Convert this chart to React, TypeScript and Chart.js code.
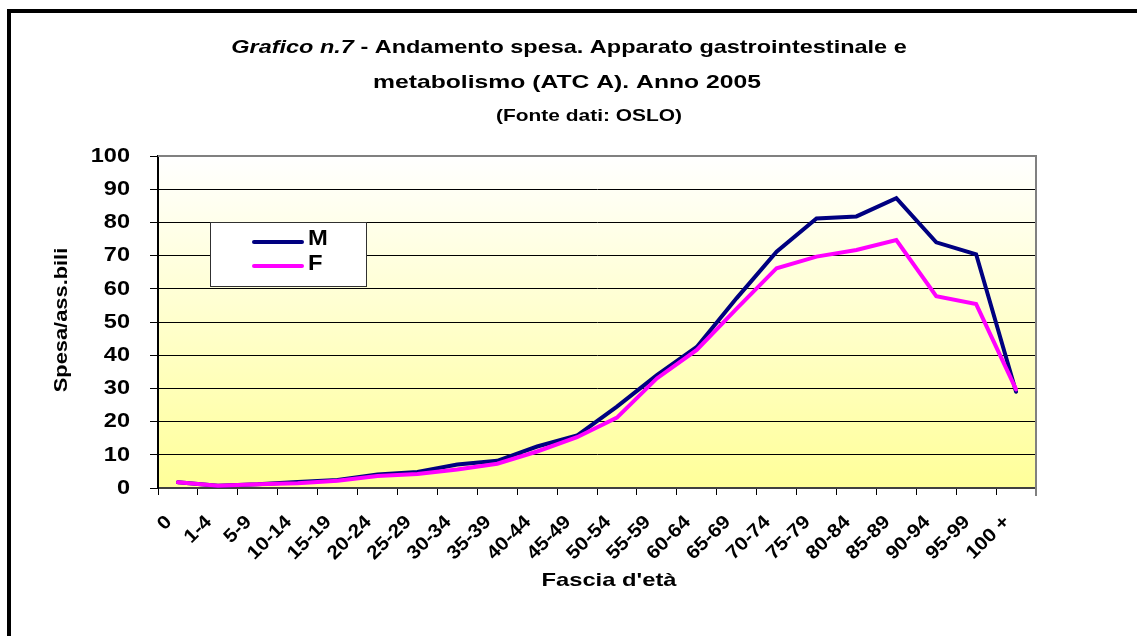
import React, { useEffect, useRef } from "react";
import { Chart, registerables } from "chart.js";

Chart.register(...registerables);

const categories = [
  "0", "1-4", "5-9", "10-14", "15-19", "20-24", "25-29", "30-34", "35-39", "40-44", "45-49",
  "50-54", "55-59", "60-64", "65-69", "70-74", "75-79", "80-84", "85-89", "90-94", "95-99", "100 +",
];
const maleValues = [
  1.7, 0.7, 1.1, 1.8, 2.4, 4.1, 4.8, 7.1, 8.2, 12.5, 15.8,
  24.5, 34.0, 42.5, 57.2, 71.2, 81.2, 81.8, 87.3, 74.0, 70.4, 29.0,
];
const femaleValues = [
  1.7, 0.7, 1.1, 1.4, 2.2, 3.6, 4.2, 5.6, 7.3, 11.0, 15.3,
  21.2, 33.0, 41.6, 54.0, 66.2, 69.7, 71.7, 74.7, 57.8, 55.4, 29.7,
];
const seriesNames = ["M", "F"];
const seriesColors = ["#000080", "#FF00FF"];
const titleItalic = "Grafico n.7";
const titleLine1 = " - Andamento spesa. Apparato gastrointestinale e";
const titleLine2 = "metabolismo (ATC A). Anno 2005";
const titleLine3 = "(Fonte dati: OSLO)";
const yAxisTitle = "Spesa/ass.bili";
const xAxisTitle = "Fascia d'età";

const FONT = '"Liberation Sans", Arial, Helvetica, sans-serif';

type TOpts = {
  size: number;
  italic?: boolean;
  align?: CanvasTextAlign;
  baseline?: CanvasTextBaseline;
  sx?: number;
  rotate?: number;
};

function setFont(ctx: CanvasRenderingContext2D, size: number, italic?: boolean) {
  ctx.font = `${italic ? "italic " : ""}bold ${size}px ${FONT}`;
}

function drawText(ctx: CanvasRenderingContext2D, text: string, x: number, y: number, o: TOpts) {
  ctx.save();
  ctx.translate(x, y);
  if (o.rotate) ctx.rotate(o.rotate);
  ctx.scale(o.sx ?? 1, 1);
  setFont(ctx, o.size, o.italic);
  ctx.textAlign = o.align ?? "left";
  ctx.textBaseline = o.baseline ?? "middle";
  ctx.fillStyle = "#000";
  ctx.fillText(text, 0, 0);
  ctx.restore();
}

const decorPlugin = {
  id: "decor",
  beforeDraw(chart: any) {
    const { ctx, chartArea: a } = chart;
    ctx.save();
    ctx.fillStyle = "#fff";
    ctx.fillRect(0, 0, chart.width, chart.height);
    ctx.fillStyle = "#000";
    ctx.fillRect(7, 9, 4, chart.height);
    ctx.fillRect(7, 9, chart.width, 4);
    const g = ctx.createLinearGradient(0, a.top, 0, a.bottom);
    g.addColorStop(0, "#FFFFFF");
    g.addColorStop(1, "#FFFF99");
    ctx.fillStyle = g;
    ctx.fillRect(a.left, a.top, a.right - a.left, a.bottom - a.top);
    ctx.restore();
  },
  beforeDatasetsDraw(chart: any) {
    const { ctx, chartArea: a } = chart;
    ctx.save();
    ctx.strokeStyle = "#808080";
    ctx.lineWidth = 2;
    ctx.beginPath();
    ctx.moveTo(a.left, a.top);
    ctx.lineTo(a.right, a.top);
    ctx.lineTo(a.right, a.bottom + 8);
    ctx.stroke();
    ctx.restore();
  },
  afterDatasetsDraw(chart: any) {
    const { ctx, chartArea: a } = chart;
    const xs = chart.scales.x;
    const ys = chart.scales.y;

    // legend box
    ctx.save();
    ctx.fillStyle = "#fff";
    ctx.fillRect(210.5, 222.5, 156, 64);
    ctx.strokeStyle = "#303030";
    ctx.lineWidth = 1;
    ctx.strokeRect(210.5, 222.5, 156, 64);
    const rows = [242, 266];
    const textRows = [239, 264];
    seriesNames.forEach((name, i) => {
      ctx.strokeStyle = seriesColors[i];
      ctx.lineWidth = 4;
      ctx.lineCap = "round";
      ctx.beginPath();
      ctx.moveTo(254, rows[i]);
      ctx.lineTo(302, rows[i]);
      ctx.stroke();
      drawText(ctx, name, 308, textRows[i], { size: 22, sx: 1.08 });
    });
    ctx.restore();

    // y tick labels
    ys.ticks.forEach((t: any, i: number) => {
      const py = ys.getPixelForTick(i);
      drawText(ctx, String(t.value), a.left - 28, py, { size: 21, sx: 1.12, align: "right" });
    });

    // x tick labels
    categories.forEach((c, i) => {
      const px = xs.getPixelForTick(i);
      drawText(ctx, c, px - 9, a.bottom + 31, {
        size: 19,
        sx: 1.1,
        align: "right",
        rotate: -Math.PI / 4,
      });
    });

    // axis titles
    drawText(ctx, yAxisTitle, 62, 320, { size: 19, sx: 1.15, align: "center", rotate: -Math.PI / 2 });
    drawText(ctx, xAxisTitle, 609, 581, { size: 19, sx: 1.25, align: "center" });

    // chart title
    const sx1 = 1.235;
    setFont(ctx, 19, true);
    const w1 = ctx.measureText(titleItalic).width * sx1;
    setFont(ctx, 19, false);
    const w2 = ctx.measureText(titleLine1).width * sx1;
    const start = 569 - (w1 + w2) / 2;
    drawText(ctx, titleItalic, start, 53, { size: 19, italic: true, sx: sx1, baseline: "alphabetic" });
    drawText(ctx, titleLine1, start + w1, 53, { size: 19, sx: sx1, baseline: "alphabetic" });
    drawText(ctx, titleLine2, 567, 88, { size: 19, sx: 1.3, align: "center", baseline: "alphabetic" });
    drawText(ctx, titleLine3, 589, 121, { size: 17, sx: 1.23, align: "center", baseline: "alphabetic" });
  },
};

export default function App() {
  const ref = useRef<HTMLCanvasElement | null>(null);

  useEffect(() => {
    document.body.style.margin = "0";
    const canvas = ref.current;
    if (!canvas) return;
    const chart = new Chart(canvas, {
      type: "line",
      data: {
        labels: categories,
        datasets: [
          {
            label: seriesNames[0],
            data: maleValues,
            borderColor: seriesColors[0],
            backgroundColor: seriesColors[0],
            order: 1,
          },
          {
            label: seriesNames[1],
            data: femaleValues,
            borderColor: seriesColors[1],
            backgroundColor: seriesColors[1],
            order: 0,
          },
        ],
      },
      options: {
        responsive: false,
        animation: false,
        devicePixelRatio: 1,
        layout: { padding: { left: 0, top: 156, right: 101, bottom: 48 } },
        elements: {
          line: { tension: 0, borderWidth: 4, borderCapStyle: "round", borderJoinStyle: "miter", fill: false },
          point: { radius: 0, hoverRadius: 0 },
        },
        plugins: {
          legend: { display: false },
          title: { display: false },
          tooltip: { enabled: false },
        },
        events: [],
        scales: {
          x: {
            type: "category",
            offset: true,
            grid: {
              offset: true,
              drawOnChartArea: false,
              drawTicks: true,
              tickLength: 7,
              color: "#000",
              lineWidth: 1,
            },
            border: { display: true, color: "#404040", width: 2 },
            ticks: { display: false },
            afterFit: (s: any) => {
              s.height = 100;
            },
          },
          y: {
            min: 0,
            max: 100,
            ticks: { display: false, stepSize: 10 },
            grid: {
              color: (c: any) => (c.tick && c.tick.value === 100 ? "#808080" : "#000"),
              tickColor: "#000",
              tickLength: 8,
              lineWidth: 1,
            },
            border: { display: true, color: "#000", width: 2 },
            afterFit: (s: any) => {
              s.width = 158;
            },
          },
        },
      } as any,
      plugins: [decorPlugin],
    });
    return () => chart.destroy();
  }, []);

  return (
    <div style={{ position: "fixed", left: 0, top: 0, width: 1137, height: 636, overflow: "hidden" }}>
      <canvas ref={ref} width={1137} height={636} style={{ display: "block" }} />
    </div>
  );
}
